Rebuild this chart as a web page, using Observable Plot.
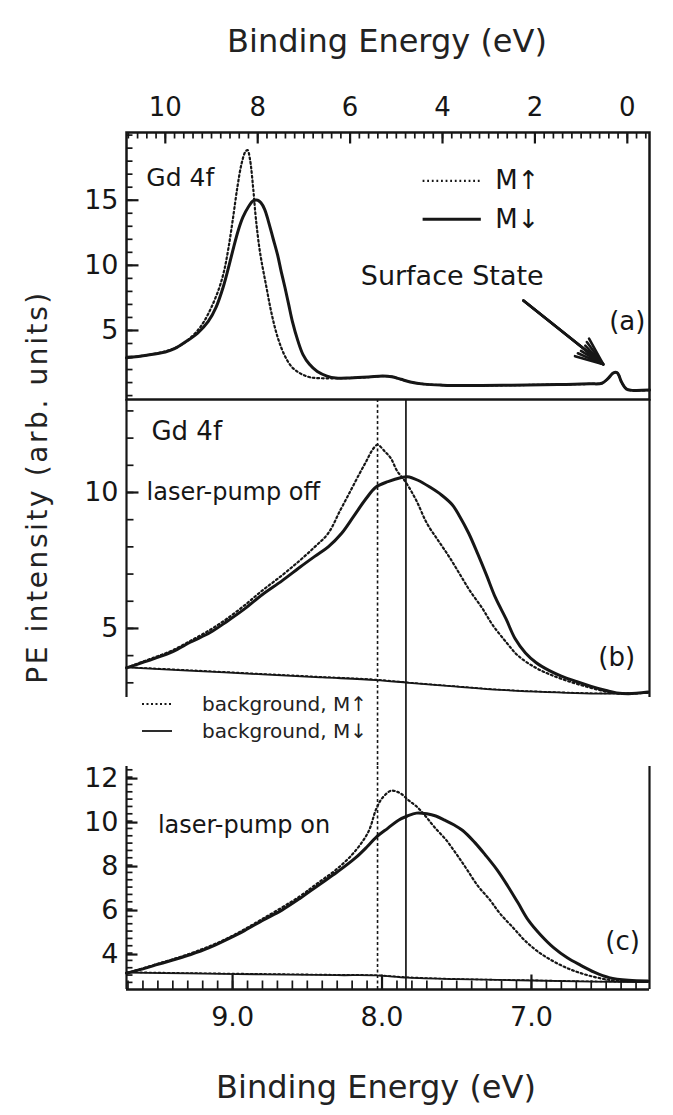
<!DOCTYPE html>
<html><head><meta charset="utf-8">
<script src="https://cdn.jsdelivr.net/npm/d3@7"></script>
<script src="https://cdn.jsdelivr.net/npm/@observablehq/plot@0.6"></script>
<style>
html,body{margin:0;padding:0;background:#fff;}
#wrap{position:relative;width:673px;height:1115px;overflow:hidden;background:#fff;font-family:"DejaVu Sans",sans-serif;color:#222;}
#wrap svg{position:absolute;left:0;}
.lbl{position:absolute;white-space:nowrap;line-height:32px;}
</style></head><body><div id="wrap"></div>
<script>
// ---------- data (binding energy eV, intensity arb. units) ----------
const energyTopTicks = [10, 8, 6, 4, 2, 0];
const energyBottomTicks = [9, 8, 7];
const intensityTicksA = [5, 10, 15];
const intensityTicksB = [5, 10];
const intensityTicksC = [4, 6, 8, 10, 12];

const panelA_Mdown = [[10.84,2.9],[10.4,3.1],[10.0,3.35],[9.8,3.6],[9.55,4.15],[9.3,4.8],[9.07,5.7],[8.9,6.8],[8.75,8.3],[8.62,10.0],[8.52,11.4],[8.42,12.7],[8.32,13.7],[8.2,14.5],[8.1,14.95],[8.0,15.0],[7.93,14.8],[7.85,14.3],[7.77,13.4],[7.67,12.1],[7.57,10.8],[7.49,9.5],[7.41,8.3],[7.33,7.0],[7.25,5.7],[7.13,4.2],[7.02,3.15],[6.88,2.4],[6.71,1.85],[6.5,1.5],[6.31,1.35],[6.0,1.35],[5.6,1.42],[5.3,1.5],[5.1,1.45],[4.9,1.25],[4.7,1.05],[4.4,0.88],[4.0,0.8],[3.5,0.77],[2.5,0.8],[1.5,0.85],[0.8,0.9],[0.55,0.95],[0.42,1.3],[0.3,1.75],[0.22,1.75],[0.12,1.0],[0.02,0.5],[-0.1,0.4],[-0.48,0.42]];
const panelA_Mup = [[10.84,2.9],[10.4,3.1],[10.0,3.4],[9.7,3.8],[9.5,4.3],[9.3,5.0],[9.16,5.7],[9.0,6.8],[8.83,8.3],[8.72,9.7],[8.63,11.4],[8.54,13.5],[8.44,16.0],[8.35,17.8],[8.27,18.7],[8.22,18.85],[8.17,18.2],[8.1,16.0],[8.04,13.6],[7.95,11.0],[7.81,8.3],[7.7,6.3],[7.57,4.5],[7.42,3.1],[7.25,2.15],[7.05,1.65],[6.86,1.4],[6.6,1.33],[6.3,1.33],[6.0,1.35],[5.6,1.42],[5.3,1.5],[5.1,1.45],[4.9,1.25],[4.7,1.05],[4.4,0.88],[4.0,0.8],[3.5,0.77],[2.5,0.8],[1.5,0.85],[0.8,0.9],[0.55,0.95],[0.42,1.3],[0.3,1.75],[0.22,1.75],[0.12,1.0],[0.02,0.5],[-0.1,0.4],[-0.48,0.42]];

const panelB_Mdown = [[9.71,3.55],[9.6,3.75],[9.53,3.88],[9.4,4.15],[9.28,4.5],[9.15,4.85],[9.04,5.25],[8.92,5.72],[8.8,6.25],[8.67,6.75],[8.55,7.25],[8.45,7.65],[8.36,8.0],[8.27,8.5],[8.19,9.12],[8.11,9.75],[8.04,10.2],[7.96,10.4],[7.87,10.55],[7.83,10.58],[7.76,10.45],[7.68,10.2],[7.6,9.9],[7.53,9.55],[7.48,9.12],[7.42,8.5],[7.36,7.75],[7.3,6.95],[7.24,6.12],[7.17,5.35],[7.11,4.63],[7.04,4.1],[6.97,3.75],[6.88,3.45],[6.8,3.25],[6.7,3.05],[6.6,2.87],[6.5,2.72],[6.43,2.63],[6.35,2.6],[6.22,2.66]];
const panelB_Mup = [[9.71,3.55],[9.6,3.78],[9.5,3.98],[9.4,4.2],[9.28,4.55],[9.15,4.95],[9.04,5.35],[8.92,5.85],[8.8,6.4],[8.67,6.95],[8.55,7.5],[8.45,8.0],[8.36,8.5],[8.28,9.34],[8.21,10.07],[8.15,10.7],[8.11,11.1],[8.06,11.6],[8.03,11.75],[7.98,11.5],[7.94,11.25],[7.9,10.8],[7.84,10.37],[7.77,9.7],[7.7,8.87],[7.62,8.2],[7.55,7.63],[7.48,7.0],[7.41,6.37],[7.33,5.75],[7.26,5.13],[7.17,4.5],[7.09,4.0],[6.97,3.55],[6.85,3.25],[6.72,3.0],[6.6,2.81],[6.5,2.68],[6.4,2.6],[6.22,2.64]];
const panelB_bgDown = [[9.71,3.57],[9.3,3.45],[8.8,3.31],[8.4,3.2],[8.04,3.1],[7.82,3.0],[7.5,2.86],[7.21,2.74],[6.9,2.66],[6.48,2.6],[6.22,2.63]];
const panelB_bgUp = [[9.71,3.58],[9.3,3.47],[8.8,3.33],[8.4,3.22],[8.04,3.12],[7.82,3.01],[7.5,2.87],[7.21,2.75],[6.9,2.67],[6.48,2.61],[6.22,2.63]];

const panelC_Mdown = [[9.71,3.15],[9.6,3.35],[9.5,3.55],[9.4,3.75],[9.28,4.0],[9.16,4.3],[9.04,4.68],[8.92,5.09],[8.8,5.55],[8.67,6.02],[8.55,6.55],[8.43,7.13],[8.3,7.75],[8.18,8.38],[8.1,8.9],[8.04,9.33],[7.96,9.75],[7.89,10.11],[7.83,10.3],[7.77,10.43],[7.7,10.4],[7.64,10.3],[7.58,10.11],[7.52,9.9],[7.46,9.64],[7.38,9.1],[7.31,8.54],[7.23,7.85],[7.16,7.13],[7.09,6.35],[7.02,5.55],[6.94,4.9],[6.85,4.3],[6.76,3.85],[6.67,3.51],[6.58,3.2],[6.48,2.95],[6.35,2.83],[6.22,2.8]];
const panelC_Mup = [[9.71,3.15],[9.5,3.58],[9.28,4.05],[9.04,4.72],[8.8,5.62],[8.55,6.65],[8.43,7.25],[8.3,7.9],[8.18,8.7],[8.09,9.6],[8.04,10.6],[8.0,11.1],[7.94,11.45],[7.9,11.4],[7.87,11.3],[7.82,11.0],[7.77,10.74],[7.71,10.3],[7.65,9.8],[7.57,9.2],[7.5,8.55],[7.43,7.85],[7.36,7.13],[7.28,6.5],[7.21,5.86],[7.12,5.2],[7.04,4.61],[6.95,4.1],[6.85,3.68],[6.75,3.35],[6.65,3.11],[6.54,2.92],[6.43,2.8],[6.22,2.78]];
const panelC_bgDown = [[9.71,3.18],[9.3,3.14],[8.8,3.1],[8.3,3.06],[8.04,3.05],[7.83,2.95],[7.5,2.88],[7.0,2.82],[6.6,2.77],[6.22,2.75]];
const panelC_bgUp = [[9.71,3.2],[9.3,3.16],[8.8,3.12],[8.3,3.08],[8.04,3.06],[7.83,2.97],[7.5,2.89],[7.0,2.83],[6.6,2.78],[6.22,2.76]];

const peakMup = 8.03, peakMdown = 7.84;

const labelsA = [{e:10.41,i:16.74,t:"Gd 4f",a:"start",s:25},{e:3.79,i:9.14,t:"Surface State",a:"middle",s:27},{e:0.0,i:5.68,t:"(a)",a:"middle",s:26}];
const legendA = [{x1:4.42,x2:3.16,i:16.48,t:"M\u2191",dash:true},{x1:4.42,x2:3.16,i:13.53,t:"M\u2193",dash:false}];
const legendTextE = 2.86;
const arrowA = [{e1:2.25,i1:7.3,e2:0.52,i2:2.4}];
const labelsB = [{e:9.543,i:12.24,t:"Gd 4f",a:"start",s:26},{e:9.576,i:10.0,t:"laser-pump off",a:"start",s:24},{e:6.43,i:3.93,t:"(b)",a:"middle",s:26}];
const labelsC = [{e:9.50,i:9.87,t:"laser-pump on",a:"start",s:24},{e:6.39,i:4.6,t:"(c)",a:"middle",s:26}];

// ---------- layout ----------
const xDomA = [10.84, -0.48], yDomA = [-0.3, 20.2];
const xDomBC = [9.71, 6.21], yDomB = [2.46, 13.42], yDomC = [2.41, 12.55];
const FW = 523, HA = 267, HB = 298, HC = 223; // frame sizes in px
const INK = "#161616";
const TICK = INK;
const rows = a => a.map(([e, i]) => ({e, i}));
const step = (lo, hi, s) => d3.range(Math.round(lo / s), Math.round(hi / s) + 1).map(k => +(k * s).toFixed(4));
const fmt1 = d3.format(".1f");

function mk(opts) {
  return Plot.plot({
    width: 673, marginLeft: 126, marginRight: 24,
    style: {background: "none", overflow: "visible", fontFamily: "DejaVu Sans", fontSize: "26px", color: INK},
    ...opts
  });
}
const DOT = "1.8,2.8";
const solid = (data, w = 3) => Plot.line(rows(data), {x: "e", y: "i", stroke: INK, strokeWidth: w, curve: "catmull-rom"});
const dotted = (data, w = 2.2) => Plot.line(rows(data), {x: "e", y: "i", stroke: INK, strokeWidth: w, strokeDasharray: DOT, curve: "catmull-rom"});
const texts = (data) => data.map(d => Plot.text([d], {x: "e", y: "i", text: "t", textAnchor: d.a, fontSize: d.s, fill: INK}));
const tickRows = (vals, f) => vals.map(v => f(v));
const ticksTop = (vals, len, yd, H, w = 1.7) => Plot.link(tickRows(vals, v => ({a: v, b: v, c: yd[1], d: yd[1] - (yd[1] - yd[0]) * len / H})), {x1: "a", x2: "b", y1: "c", y2: "d", stroke: TICK, strokeWidth: w});
const ticksBottom = (vals, len, yd, H, w = 1.7) => Plot.link(tickRows(vals, v => ({a: v, b: v, c: yd[0], d: yd[0] + (yd[1] - yd[0]) * len / H})), {x1: "a", x2: "b", y1: "c", y2: "d", stroke: TICK, strokeWidth: w});
const ticksLeft = (vals, len, xd, w = 1.7) => Plot.link(tickRows(vals, v => ({a: xd[0], b: xd[0] + (xd[1] - xd[0]) * len / FW, c: v, d: v})), {x1: "a", x2: "b", y1: "c", y2: "d", stroke: TICK, strokeWidth: w});
const labelsLeft = (vals, x0) => Plot.text(vals, {x: x0, y: d => d, text: d => String(d), textAnchor: "end", dx: -8, fontSize: 27, fill: INK});

const wrap = document.getElementById("wrap");

// Panel (a)
const pa = mk({
  height: 400, marginTop: 132, marginBottom: 1,
  x: {domain: xDomA, axis: null}, y: {domain: yDomA, axis: null},
  marks: [
    Plot.frame({stroke: INK, strokeWidth: 2.5}),
    ticksTop(step(-0.4, 10.8, 0.2), 6, yDomA, HA),
    ticksTop(energyTopTicks, 11, yDomA, HA, 2.2),
    Plot.text(energyTopTicks, {x: d => d, y: yDomA[1], text: d => String(d), dy: -25, fontSize: 26, fill: INK}),
    ticksLeft(step(0, 20, 1), 6, xDomA),
    ticksLeft(intensityTicksA, 12, xDomA, 2.2),
    labelsLeft(intensityTicksA, xDomA[0]),
    dotted(panelA_Mup),
    solid(panelA_Mdown),
    Plot.ruleY(legendA.filter(d => d.dash), {y: "i", x1: "x1", x2: "x2", stroke: INK, strokeWidth: 2.2, strokeDasharray: DOT}),
    Plot.ruleY(legendA.filter(d => !d.dash), {y: "i", x1: "x1", x2: "x2", stroke: INK, strokeWidth: 3}),
    Plot.text(legendA, {x: legendTextE, y: "i", text: "t", textAnchor: "start", fontSize: 26, fill: INK}),
    Plot.arrow(arrowA, {x1: "e1", y1: "i1", x2: "e2", y2: "i2", stroke: INK, strokeWidth: 2.6, headLength: 17, headAngle: 45}),
    Plot.arrow(arrowA, {x1: "e1", y1: "i1", x2: "e2", y2: "i2", stroke: INK, strokeWidth: 2.6, headLength: 16, headAngle: 30}),
    Plot.arrow(arrowA, {x1: "e1", y1: "i1", x2: "e2", y2: "i2", stroke: INK, strokeWidth: 2.6, headLength: 15, headAngle: 15}),
    ...texts(labelsA)
  ]
});
pa.style.top = "0px";
wrap.appendChild(pa);

// Panel (b)
const pb = mk({
  height: 367, marginTop: 0, marginBottom: 69,
  x: {domain: xDomBC, axis: null}, y: {domain: yDomB, axis: null},
  marks: [
    Plot.ruleX([xDomBC[0], xDomBC[1]], {x: d => d, stroke: INK, strokeWidth: 2.2}),
    ticksLeft(step(3, 13, 1), 7, xDomBC),
    ticksLeft(intensityTicksB, 12, xDomBC, 2.2),
    labelsLeft(intensityTicksB, xDomBC[0]),
    Plot.ruleX([peakMup], {x: d => d, stroke: INK, strokeWidth: 1.6, strokeDasharray: "3,2.5", insetBottom: -69}),
    Plot.ruleX([peakMdown], {x: d => d, stroke: INK, strokeWidth: 1.7, insetBottom: -69}),
    dotted(panelB_bgUp, 1.6),
    solid(panelB_bgDown, 1.8),
    dotted(panelB_Mup),
    solid(panelB_Mdown),
    ...texts(labelsB)
  ]
});
pb.style.top = "399px";
wrap.appendChild(pb);

// Panel (c)
const pc = mk({
  height: 349, marginTop: 0, marginBottom: 126,
  x: {domain: xDomBC, axis: null}, y: {domain: yDomC, axis: null},
  marks: [
    Plot.ruleX([xDomBC[0], xDomBC[1]], {x: d => d, stroke: INK, strokeWidth: 2.2}),
    Plot.ruleY([yDomC[0]], {y: d => d, stroke: INK, strokeWidth: 2.5}),
    ticksLeft(d3.range(0, 31).map(k => 12.4 - k / 3).filter(v => v > 2.5), 6, xDomBC),
    ticksLeft(intensityTicksC, 11, xDomBC, 2.2),
    labelsLeft(intensityTicksC, xDomBC[0]),
    ticksBottom(step(6.3, 9.7, 0.1), 9, yDomC, HC),
    ticksBottom(energyBottomTicks, 15, yDomC, HC, 2.2),
    Plot.text(energyBottomTicks, {x: d => d, y: yDomC[0], text: d => fmt1(d), dy: 28, fontSize: 27, fill: INK}),
    Plot.ruleX([peakMup], {x: d => d, stroke: INK, strokeWidth: 1.6, strokeDasharray: "3,2.5"}),
    Plot.ruleX([peakMdown], {x: d => d, stroke: INK, strokeWidth: 1.7}),
    dotted(panelC_bgUp, 1.6),
    solid(panelC_bgDown, 1.8),
    dotted(panelC_Mup),
    solid(panelC_Mdown),
    ...texts(labelsC)
  ]
});
pc.style.top = "766px";
wrap.appendChild(pc);

// Titles & legend (HTML)
function addLabel(text, css) {
  const d = document.createElement("div");
  d.className = "lbl";
  d.textContent = text;
  Object.assign(d.style, css);
  wrap.appendChild(d);
  return d;
}
addLabel("Binding Energy (eV)", {left: "387px", top: "25px", fontSize: "32px", transform: "translateX(-50%)"});
addLabel("Binding Energy (eV)", {left: "376px", top: "1071px", fontSize: "32px", transform: "translateX(-50%)"});
addLabel("PE intensity (arb. units)", {left: "38px", top: "487px", fontSize: "28px", letterSpacing: "2.6px", transform: "translate(-50%,-50%) rotate(-90deg)"});

const legendB = [{t: "background, M\u2191", dash: "2,2.5", y: 704}, {t: "background, M\u2193", dash: null, y: 731}];
const ns = "http://www.w3.org/2000/svg";
legendB.forEach(d => {
  const s = document.createElementNS(ns, "svg");
  s.setAttribute("width", "32"); s.setAttribute("height", "6");
  s.style.left = "141px"; s.style.top = (d.y - 3) + "px";
  const l = document.createElementNS(ns, "line");
  l.setAttribute("x1", "1"); l.setAttribute("x2", "31"); l.setAttribute("y1", "3"); l.setAttribute("y2", "3");
  l.setAttribute("stroke", INK); l.setAttribute("stroke-width", "1.8");
  if (d.dash) l.setAttribute("stroke-dasharray", d.dash);
  s.appendChild(l);
  wrap.appendChild(s);
  addLabel(d.t, {left: "202px", top: (d.y - 16) + "px", fontSize: "20px"});
});
</script></body></html>
